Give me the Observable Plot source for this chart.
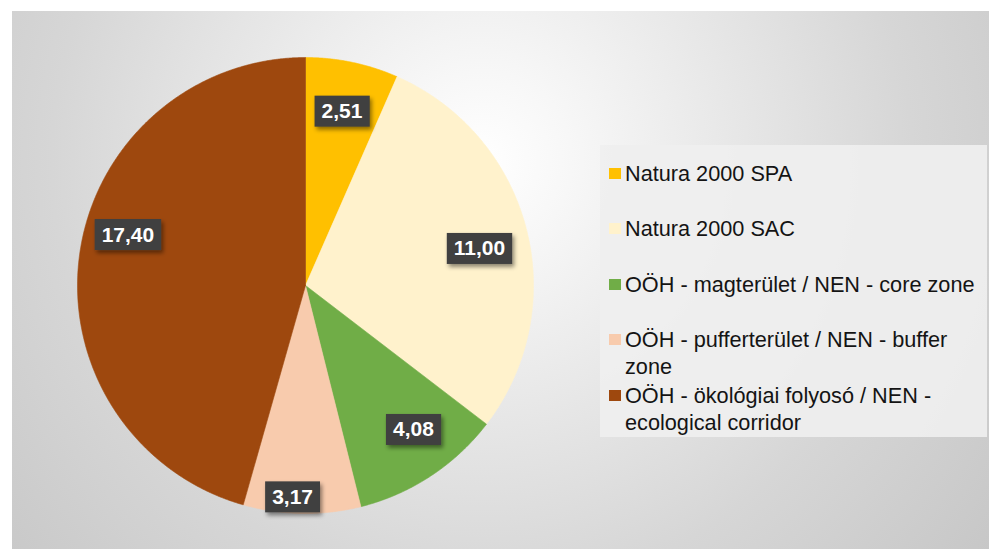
<!DOCTYPE html>
<html>
<head>
<meta charset="utf-8">
<script src="https://cdn.jsdelivr.net/npm/d3@7"></script>
<script src="https://cdn.jsdelivr.net/npm/@observablehq/plot@0.6"></script>
<style>
  body { margin: 0; background: #fff; }
  #wrap { position: relative; width: 989px; height: 549px; overflow: hidden; background: #fff;
          font-family: "Liberation Sans", Arial, sans-serif; }
  #bg { position: absolute; left: 12px; top: 11px; width: 977px; height: 538px;
        background: radial-gradient(circle farthest-corner at 470px 150px, #ffffff 0px, #f7f7f7 90px, #d6d6d6 430px, #c7c7c7 640px); }
  #chart { position: absolute; left: 0; top: 0; }
  #legend { position: absolute; left: 600px; top: 145px; width: 387px; height: 292px;
            background: rgba(239,239,239,0.92); }
  .item { position: absolute; left: 0; width: 387px; }
  .mk { position: absolute; left: 9px; top: 8px; width: 12px; height: 11px; }
  .lt { position: absolute; left: 25px; top: 0; width: 360px; font-size: 21.7px; line-height: 27px; color: #141414; }
</style>
</head>
<body>
<div id="wrap">
  <div id="bg"></div>
  <div id="chart"></div>
  <div id="legend"></div>
</div>
<script>
// ---- data ----
const categories = [
  "Natura 2000 SPA",
  "Natura 2000 SAC",
  "OÖH - magterület / NEN - core zone",
  "OÖH - pufferterület / NEN - buffer zone",
  "OÖH - ökológiai folyosó / NEN - ecological corridor"
];
const values = [2.51, 11.00, 4.08, 3.17, 17.40];

// ---- styles ----
const colors = ["#FFC000", "#FFF2CC", "#70AD47", "#F8CBAD", "#9E480E"];
// label placement relative to slice mid-angle (radius fraction, angle tweak in degrees)
const labelPlacement = [
  {r: 0.78, da: 0}, {r: 0.78, da: 2.5}, {r: 0.79, da: -3.5}, {r: 0.93, da: 2.6}, {r: 0.81, da: 8}
];

const rows = categories.map((name, i) => ({name, value: values[i]}));
const arcs = d3.pie().sort(null).value(d => d.value)(rows);

const slicePts = arcs.flatMap(p => {
  const name = p.data.name;
  const pts = [{x: 0, y: 0, name}];
  const n = Math.max(4, Math.ceil((p.endAngle - p.startAngle) / (Math.PI / 720)));
  for (let i = 0; i <= n; i++) {
    const a = p.startAngle + (p.endAngle - p.startAngle) * i / n;
    pts.push({x: Math.sin(a), y: Math.cos(a), name});
  }
  pts.push({x: 0, y: 0, name});
  return pts;
});

const fmt = v => d3.format(".2f")(v).replace(".", ",");
const labels = arcs.map((p, i) => {
  const pl = labelPlacement[i];
  const a = (p.startAngle + p.endAngle) / 2 + pl.da * Math.PI / 180;
  return {x: pl.r * Math.sin(a), y: pl.r * Math.cos(a), text: fmt(p.data.value)};
});

const cx = 305, cy = 285, R = 228;
const chart = Plot.plot({
  width: 989,
  height: 549,
  margin: 0,
  style: {background: "transparent", overflow: "visible"},
  x: {domain: [-1, 1], range: [cx - R, cx + R], axis: null},
  y: {domain: [-1, 1], range: [cy + R, cy - R], axis: null},
  color: {type: "ordinal", domain: categories, range: colors, legend: false},
  marks: [
    Plot.line(slicePts, {x: "x", y: "y", z: "name", fill: "name", stroke: "name", strokeWidth: 0.6, curve: "linear"}),
    Plot.text(labels, {x: "x", y: "y", text: "text", fill: "white", fontWeight: "bold", fontSize: 21,
      fontFamily: "'Liberation Sans', Arial, sans-serif"})
  ]
});
document.getElementById("chart").appendChild(chart);

// label boxes (dark background with soft shadow)
const svgNS = "http://www.w3.org/2000/svg";
const defs = document.createElementNS(svgNS, "defs");
defs.innerHTML = '<filter id="sh" x="-30%" y="-30%" width="160%" height="170%"><feDropShadow dx="2" dy="3" stdDeviation="2" flood-color="#000" flood-opacity="0.45"/></filter>';
chart.insertBefore(defs, chart.firstChild);
chart.querySelectorAll('g[aria-label="text"] text').forEach(t => {
  const b = t.getBBox();
  const r = document.createElementNS(svgNS, "rect");
  const h = 31;
  const cyT = b.y + b.height / 2 + 0.5;
  r.setAttribute("x", b.x - 7);
  r.setAttribute("y", cyT - h / 2);
  r.setAttribute("width", b.width + 14);
  r.setAttribute("height", h);
  r.setAttribute("fill", "#404040");
  r.setAttribute("filter", "url(#sh)");
  const tr = t.getAttribute("transform");
  if (tr) r.setAttribute("transform", tr);
  t.parentNode.insertBefore(r, t);
});

// legend
const legend = document.getElementById("legend");
categories.forEach((name, i) => {
  const it = document.createElement("div");
  it.className = "item";
  it.style.top = (14.5 + i * 55.5) + "px";
  const mk = document.createElement("div");
  mk.className = "mk";
  mk.style.background = colors[i];
  const lt = document.createElement("div");
  lt.className = "lt";
  lt.textContent = name;
  it.appendChild(mk);
  it.appendChild(lt);
  legend.appendChild(it);
});
</script>
</body>
</html>
